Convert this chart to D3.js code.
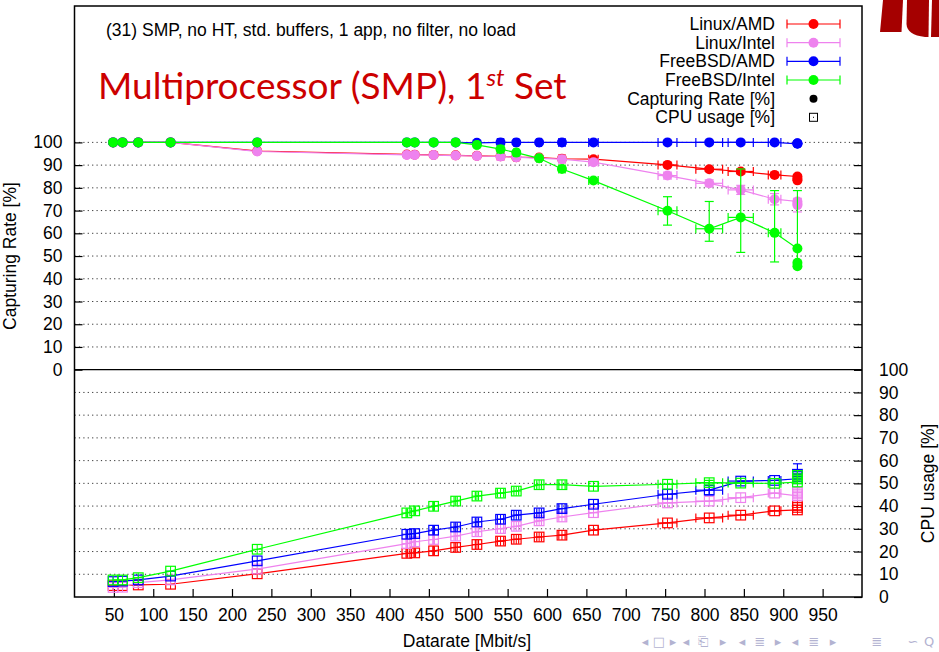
<!DOCTYPE html>
<html lang="en">
<head>
<meta charset="utf-8" />
<script src="https://cdn.jsdelivr.net/npm/d3@7"></script>
<style>
  body { margin: 0; background: #fff; }
  text { font-family: "Liberation Sans", Arial, sans-serif; font-size: 17.5px; fill: #000; }
  .grid line { stroke: #333; stroke-dasharray: 1.2, 3.2; stroke-width: 1; }
  .axis line { stroke: #000; stroke-width: 1.2; }
  .axis path { display: none; }
  .title { font-family: Lato, "Open Sans", sans-serif; fill: #cc0000; font-size: 37px; }
  .nav { fill: #b3b3d1; font-family: "DejaVu Sans", sans-serif; font-size: 13px; }
</style>
</head>
<body>
<script>
// datarate [Mbit/s] of each measurement (last one repeated: several runs)
var datarate    = [49, 61, 81, 122, 232, 422, 432, 456, 484, 511, 541, 561, 590, 619, 659, 753, 806, 846, 889, 918, 918, 918];
var datarateErr = [0, 0, 0, 0, 0, 1, 1, 1, 2, 2, 4, 3, 3, 4, 6, 12, 17, 16, 8, 0, 0, 0];

var linuxAmdRate   = [100, 100, 100, 100, 96.2, 94.7, 94.6, 94.5, 94.3, 94.1, 93.9, 93.5, 93.3, 92.8, 92.6, 90.1, 88.2, 87.2, 85.7, 85.0, 84.0, 83.3];
var linuxIntelRate = [100, 100, 100, 100, 96.0, 94.5, 94.5, 94.4, 94.2, 94.0, 93.8, 93.5, 93.0, 92.6, 91.3, 85.4, 82.0, 79.1, 75.0, 74.0, 73.0, 72.4];
var bsdAmdRate     = [100, 100, 100, 100, 100, 100, 100, 100, 100, 99.8, 100, 100, 100, 100, 100, 100, 100, 100, 100, 99.4, 99.6, 99.5];
var bsdIntelRate   = [100, 100, 100, 100, 100, 100, 100, 100, 100, 98.9, 97.0, 95.5, 93.0, 88.3, 83.2, 69.9, 62.0, 67.0, 60.2, 53.3, 47.0, 45.5];

// error bars on the capturing rate: [minus, plus]
var linuxAmdRateErr   = [0, 0, 0, 0, 0, 0, 0, 0, 0, 0, 0, 0, 0, 0, 0, 0.8, 0.8, 1, 0.8, 0, 0, 0];
var linuxIntelRateErr = [0, 0, 0, 0, 0, 0, 0, 0, 0, 0, 0, 0, 0, 0, 0, 1.5, 1.5, 2, 2.5, 0, 0, 3];
var bsdAmdRateErr     = [0, 0, 0, 0, 0, 0, 0, 0, 0, 0, 0, 0, 0, 0, 0, 0, 0, 0, 0, 0, 0, 0];
var bsdIntelRateErr   = [0, 0, 0, 0, 0, 0, 0, 0, 0, 0, 0, 0, 0, 0, 0, [6.3, 6.2], [5.5, 12], [15.4, 21.3], [12.8, 18.6], [0, 25.5], 0, 0];

var linuxAmdCpu   = [5.0, 5.0, 5.3, 5.6, 10.2, 19.2, 19.4, 20.3, 21.8, 23.1, 24.6, 25.4, 26.4, 27.2, 29.4, 32.6, 34.8, 36.0, 37.9, 38.3, 39.4, 40.3];
var linuxIntelCpu = [4.2, 4.3, 6.3, 7.5, 12.3, 23.5, 24.3, 25.3, 26.8, 28.7, 30.1, 31.1, 33.5, 35.2, 37.1, 41.4, 42.2, 43.7, 45.7, 44.5, 45.3, 46.0];
var bsdAmdCpu     = [6.8, 7.0, 7.5, 9.2, 15.9, 27.6, 27.9, 29.4, 30.8, 33.0, 34.2, 36.0, 37.0, 38.9, 40.8, 45.2, 47.0, 51.0, 51.3, 52.0, 53.0, 54.0];
var bsdIntelCpu   = [7.5, 7.5, 8.5, 11.4, 21.0, 37.0, 37.9, 39.9, 42.2, 44.4, 45.7, 46.6, 49.4, 49.4, 48.7, 49.6, 50.3, 50.1, 50.0, 50.6, 52.0, 53.5];

var linuxAmdCpuErr   = [0, 0, 0, 0, 0, 0, 0, 0, 0, 0, 0, 0, 0, 0, 0, 0, 0, 0, 0, 0, 0, 0];
var linuxIntelCpuErr = [0, 0, 0, 0, 0, 0, 0, 0, 0, 0, 0, 0, 0, 0, 0, 0, 0, 0, 0, 0, 0, 0];
var bsdAmdCpuErr     = [0, 0, 0, 0, 0, 0, 0, 0, 0, 0, 0, 0, 0, 0, 0, 0, 2, 0, 0, 0, 0, [0, 4.6]];
var bsdIntelCpuErr   = [0, 0, 0, 0, 0, 0, 0, 0, 0, 0, 0, 0, 0, 0, 0, 0, 1, 0, 0, 0, 0, 0];

var seriesNames  = ["Linux/AMD", "Linux/Intel", "FreeBSD/AMD", "FreeBSD/Intel"];
var seriesColors = ["#ff0000", "#ee82ee", "#0000ff", "#00ff00"];
var rates    = [linuxAmdRate, linuxIntelRate, bsdAmdRate, bsdIntelRate];
var rateErrs = [linuxAmdRateErr, linuxIntelRateErr, bsdAmdRateErr, bsdIntelRateErr];
var cpus     = [linuxAmdCpu, linuxIntelCpu, bsdAmdCpu, bsdIntelCpu];
var cpuErrs  = [linuxAmdCpuErr, linuxIntelCpuErr, bsdAmdCpuErr, bsdIntelCpuErr];

var xTicks = d3.range(50, 951, 50);
var yTicks = d3.range(0, 101, 10);

var width = 939, height = 652;
var plotL = 74.5, plotR = 862, plotT = 6, plotB = 597;

var svg = d3.select("body").append("svg")
    .attr("width", width)
    .attr("height", height);

var x = d3.scaleLinear().domain([0, 1000]).range([plotL, plotR]);
// upper panel: capturing rate 0..100, lower panel: cpu usage shifted down by 100
var y = d3.scaleLinear().domain([-100, 160]).range([plotB, plotT]);

function pm(e) { return typeof e === "number" ? [e, e] : e; }

// grid
var grid = svg.append("g").attr("class", "grid");
grid.selectAll("line.up").data(yTicks.filter(function (d) { return d > 0; }))
  .enter().append("line").attr("class", "up")
    .attr("x1", plotL).attr("x2", plotR)
    .attr("y1", function (d) { return y(d); }).attr("y2", function (d) { return y(d); });
grid.selectAll("line.low").data(yTicks.filter(function (d) { return d > 0 && d < 100; }))
  .enter().append("line").attr("class", "low")
    .attr("x1", plotL).attr("x2", plotR)
    .attr("y1", function (d) { return y(d - 100); }).attr("y2", function (d) { return y(d - 100); });

// divider between the panels
svg.append("line").attr("x1", plotL).attr("x2", plotR)
  .attr("y1", y(0)).attr("y2", y(0)).attr("stroke", "#000").attr("stroke-width", 1.3);

// axes
svg.append("g").attr("class", "axis")
  .attr("transform", "translate(" + plotL + ",0)")
  .call(d3.axisLeft(y).tickValues(yTicks).tickSize(-8).tickPadding(12));
svg.append("g").attr("class", "axis")
  .attr("transform", "translate(" + plotR + ",0)")
  .call(d3.axisRight(y).tickValues(yTicks).tickSize(-8).tickFormat(""));
svg.append("g").attr("class", "axis")
  .attr("transform", "translate(" + plotR + ",0)")
  .call(d3.axisRight(y).tickValues(yTicks.map(function (d) { return d - 100; }))
    .tickSize(-8).tickPadding(17).tickFormat(function (d) { return d + 100; }));
svg.append("g").attr("class", "axis")
  .attr("transform", "translate(0," + plotB + ")")
  .call(d3.axisBottom(x).tickValues(xTicks).tickSize(-8).tickPadding(12));
svg.selectAll(".axis text").style("font-size", "17.5px").style("font-family", "Liberation Sans, Arial, sans-serif");

// frame
svg.append("rect").attr("x", plotL).attr("y", plotT)
  .attr("width", plotR - plotL).attr("height", plotB - plotT)
  .attr("fill", "none").attr("stroke", "#000").attr("stroke-width", 1.5);

// axis labels
svg.append("text").attr("transform", "translate(16," + y(50) + ") rotate(-90)")
  .attr("text-anchor", "middle").text("Capturing Rate [%]");
svg.append("text").attr("transform", "translate(934," + y(-50) + ") rotate(-90)")
  .attr("text-anchor", "middle").text("CPU usage [%]");
svg.append("text").attr("x", 467).attr("y", 647)
  .attr("text-anchor", "middle").text("Datarate [Mbit/s]");

// draw series
var line = d3.line().x(function (d) { return x(d.x); }).y(function (d) { return y(d.v); });

function drawSeries(vals, errs, color, shift, marker) {
  var pts = datarate.map(function (d, i) {
    return { x: d, xe: datarateErr[i], v: vals[i] - shift, e: pm(errs[i]) };
  });
  var g = svg.append("g");
  g.append("path").datum(pts).attr("d", line)
    .attr("fill", "none").attr("stroke", color).attr("stroke-width", 1.2);
  // vertical error bars
  pts.filter(function (p) { return p.e[0] > 0 || p.e[1] > 0; }).forEach(function (p) {
    var cx = x(p.x), y0 = y(p.v - p.e[0]), y1 = y(p.v + p.e[1]);
    g.append("line").attr("x1", cx).attr("x2", cx).attr("y1", y0).attr("y2", y1)
      .attr("stroke", color).attr("stroke-width", 1.2);
    [y0, y1].forEach(function (yy) {
      g.append("line").attr("x1", cx - 4.5).attr("x2", cx + 4.5).attr("y1", yy).attr("y2", yy)
        .attr("stroke", color).attr("stroke-width", 1.2);
    });
  });
  // horizontal error bars
  pts.filter(function (p) { return p.xe > 0; }).forEach(function (p) {
    var cy = y(p.v), x0 = x(p.x - p.xe), x1 = x(p.x + p.xe);
    g.append("line").attr("x1", x0).attr("x2", x1).attr("y1", cy).attr("y2", cy)
      .attr("stroke", color).attr("stroke-width", 1.2);
    [x0, x1].forEach(function (xx) {
      g.append("line").attr("x1", xx).attr("x2", xx).attr("y1", cy - 4.5).attr("y2", cy + 4.5)
        .attr("stroke", color).attr("stroke-width", 1.2);
    });
  });
  if (marker === "circle") {
    g.selectAll("circle").data(pts).enter().append("circle")
      .attr("cx", function (d) { return x(d.x); })
      .attr("cy", function (d) { return y(d.v); })
      .attr("r", 5).attr("fill", color);
  } else {
    var s = 4.8;
    var m = g.selectAll("g.m").data(pts).enter().append("g").attr("class", "m")
      .attr("transform", function (d) { return "translate(" + x(d.x) + "," + y(d.v) + ")"; });
    m.append("rect").attr("x", -s).attr("y", -s).attr("width", 2 * s).attr("height", 2 * s)
      .attr("fill", "none").attr("stroke", color).attr("stroke-width", 1.2);
    m.append("path").attr("d", "M" + (-s) + ",0H" + s + "M0," + (-s) + "V" + s)
      .attr("stroke", color).attr("stroke-width", 1);
  }
}

seriesNames.forEach(function (n, i) { drawSeries(cpus[i], cpuErrs[i], seriesColors[i], 100, "square"); });
seriesNames.forEach(function (n, i) { drawSeries(rates[i], rateErrs[i], seriesColors[i], 0, "circle"); });

// header texts
svg.append("text").attr("x", 106).attr("y", 36)
  .text("(31) SMP, no HT, std. buffers, 1 app, no filter, no load");
var title = svg.append("text").attr("class", "title").attr("x", 98).attr("y", 99);
title.append("tspan").text("Multiprocessor (SMP), 1");
title.append("tspan").attr("dy", -13).style("font-size", "24px").style("font-style", "italic").text("st");
title.append("tspan").attr("dy", 13).text(" Set");

// legend
var legendY = [24, 42.7, 61.3, 80];
seriesNames.forEach(function (n, i) {
  var ly = legendY[i], c = seriesColors[i];
  var g = svg.append("g");
  g.append("text").attr("x", 775).attr("y", ly + 6).attr("text-anchor", "end").text(n);
  g.append("line").attr("x1", 787).attr("x2", 840).attr("y1", ly).attr("y2", ly)
    .attr("stroke", c).attr("stroke-width", 1.2);
  [787, 840].forEach(function (xx) {
    g.append("line").attr("x1", xx).attr("x2", xx).attr("y1", ly - 4.5).attr("y2", ly + 4.5)
      .attr("stroke", c).attr("stroke-width", 1.2);
  });
  g.append("circle").attr("cx", 813.5).attr("cy", ly).attr("r", 5).attr("fill", c);
});
svg.append("text").attr("x", 775).attr("y", 98.7 + 6).attr("text-anchor", "end").text("Capturing Rate [%]");
svg.append("circle").attr("cx", 813.5).attr("cy", 98.7).attr("r", 4).attr("fill", "#000");
svg.append("text").attr("x", 775).attr("y", 117.3 + 6).attr("text-anchor", "end").text("CPU usage [%]");
svg.append("rect").attr("x", 809.5).attr("y", 113.3).attr("width", 8).attr("height", 8)
  .attr("fill", "none").attr("stroke", "#000").attr("stroke-width", 1);
svg.append("rect").attr("x", 813).attr("y", 116.8).attr("width", 1).attr("height", 1).attr("fill", "#000");

// logo corner
var logo = svg.append("g").attr("fill", "#a50000");
logo.append("path").attr("d", "M883,0L903,0L901.5,32L880,32Z");
logo.append("path").attr("d", "M907,0L929,0L928.5,37L925,37Q907,35 906.5,24Z");
logo.append("path").attr("d", "M932,0L939,0L939,37L931,37Z");

// navigation symbols
var navItems = [["\u25C2", 645], ["\u25A1", 659], ["\u25B8", 673], ["\u25C2", 686], ["\u2397", 703], ["\u25B8", 723],
  ["\u25C2", 742], ["\u2263", 760], ["\u25B8", 778], ["\u25C2", 795], ["\u2263", 814], ["\u25B8", 833],
  ["\u2263", 877], ["\u223D", 913], ["Q", 929]];
svg.selectAll("text.nav").data(navItems).enter().append("text").attr("class", "nav")
  .attr("x", function (d) { return d[1]; }).attr("y", 646).attr("text-anchor", "middle")
  .text(function (d) { return d[0]; });
</script>
</body>
</html>
